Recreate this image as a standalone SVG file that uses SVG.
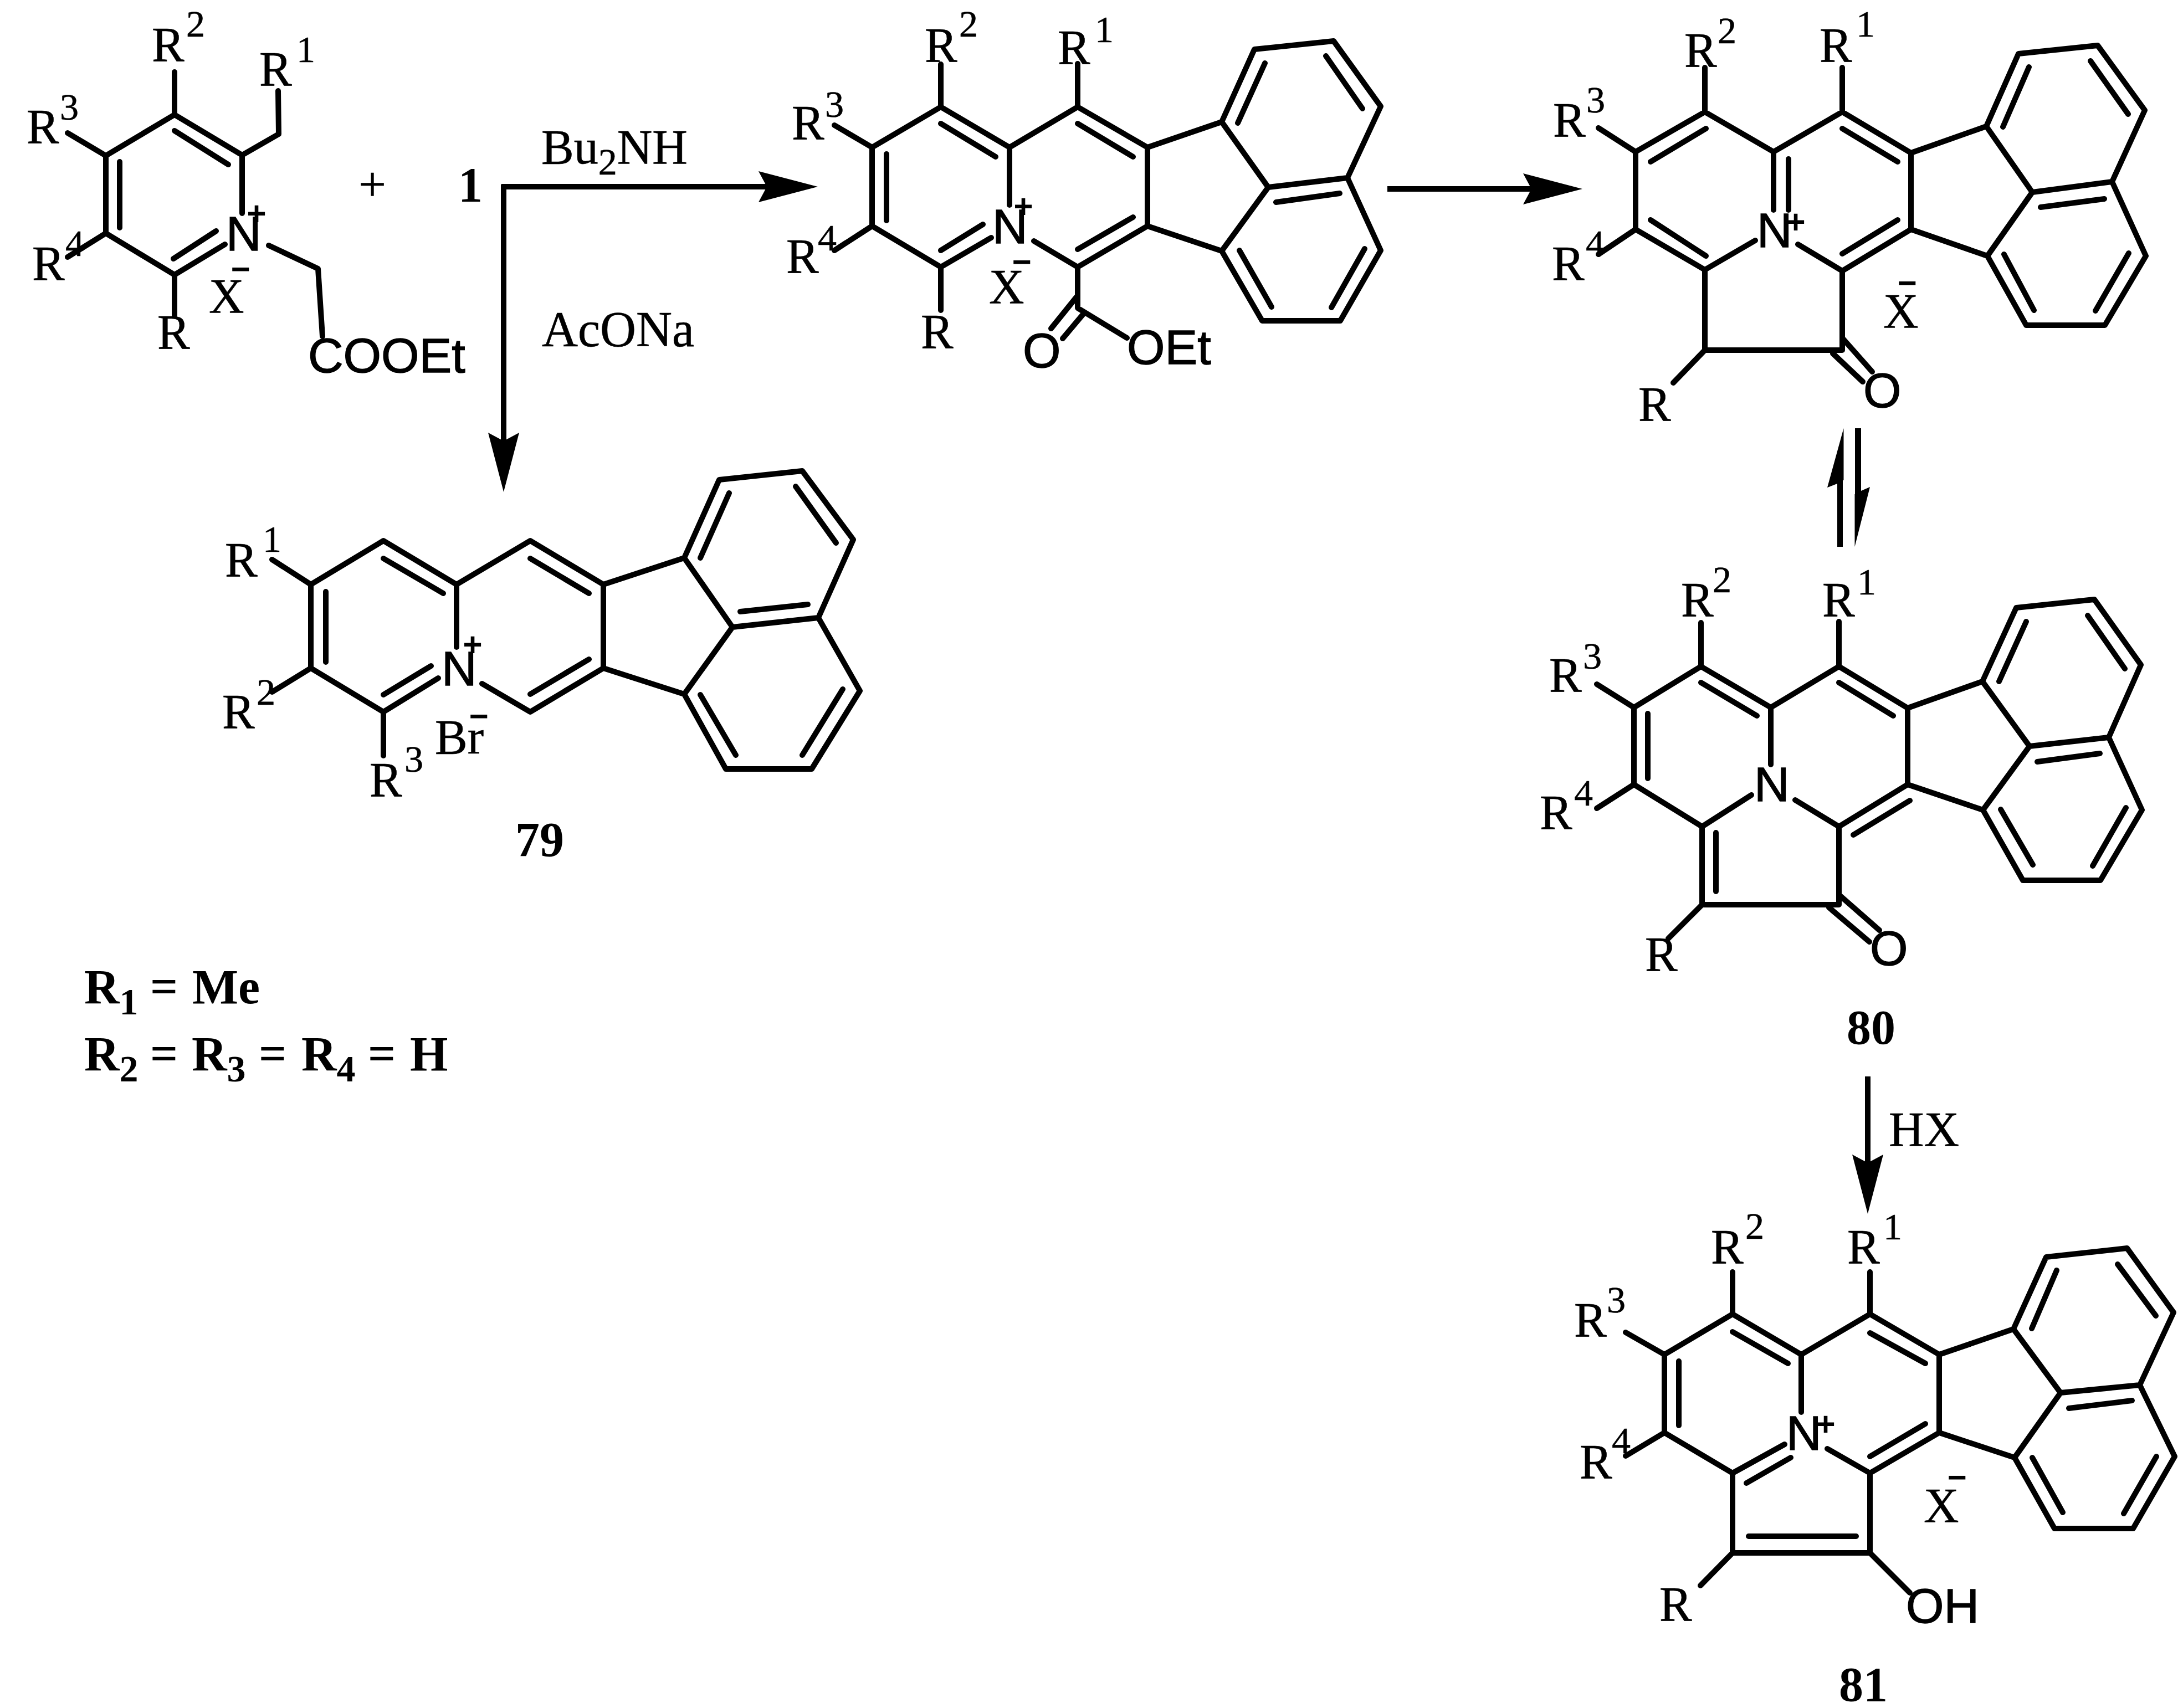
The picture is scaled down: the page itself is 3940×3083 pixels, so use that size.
<svg xmlns="http://www.w3.org/2000/svg" width="3940" height="3083" viewBox="0 0 3940 3083">
<style>
.b{fill:none;stroke:#000;stroke-width:10;stroke-linecap:round;stroke-linejoin:round}
.cn{fill:none;stroke:#000;stroke-width:10}
.t{font-family:"Liberation Serif",serif;font-size:88px;fill:#000;stroke:#000;stroke-width:.6}
.s{font-size:68px}
.a{font-family:"Liberation Sans",sans-serif;font-size:88px;fill:#000;stroke:#000;stroke-width:1.4}
.c{font-family:"Liberation Sans",sans-serif;font-size:60px;font-weight:700;text-anchor:middle;fill:#000}
.n{font-family:"Liberation Serif",serif;font-size:88px;font-weight:700;fill:#000}
</style>
<defs>
<marker id="ah" markerUnits="userSpaceOnUse" markerWidth="107" markerHeight="56" viewBox="0 0 107 56" refX="15" refY="28" orient="auto">
<path d="M0 0L107 28L0 56L15 28Z" fill="#000"/>
</marker>
</defs>
<rect width="3940" height="3083" fill="#fff"/>

<g id="connectors">
<path class="cn" marker-end="url(#ah)" d="M905 337H1384"/>
<path class="cn" marker-end="url(#ah)" d="M909 333V796"/>
<path class="cn" marker-end="url(#ah)" d="M2504 341H2764"/>
<path class="cn" marker-end="url(#ah)" d="M3371 1943V2099"/>
<polygon points="3327.5,773 3298,880 3316,873 3316,987 3326,987 3326,867 3327.5,867" fill="#000"/>
<polygon points="3348,773 3359,773 3359,886 3375,879 3347.5,987 3347.5,892 3348,892" fill="#000"/>
</g>

<g id="reagents">
<text class="t" x="672" y="362" text-anchor="middle">+</text>
<text class="n" x="827" y="363">1</text>
<text class="t" x="977" y="295">Bu<tspan class="s" y="315">2</tspan><tspan y="295">NH</tspan></text>
<text class="t" x="978" y="625" style="font-size:90px">AcONa</text>
<text class="t" x="3409" y="2068">HX</text>
</g>

<g id="mol-start">
<path class="b" d="M437 385L437 280L315 207L191 281L191 421L315 496L406 441M216 292V411M315 236L412 297M313 467L390 417M315 207V130M191 281L122 240M191 421L122 464M315 496V569M437 280L503 242L502 164M485 443L574 485L582 607"/>
<text class="t" x="274" y="110">R<tspan class="s" x="336" y="66">2</tspan></text>
<text class="t" x="468" y="154">R<tspan class="s" x="535" y="112">1</tspan></text>
<text class="t" x="48" y="258">R<tspan class="s" x="108" y="216">3</tspan></text>
<text class="t" x="58" y="505">R<tspan class="s" x="118" y="462">4</tspan></text>
<text class="t" x="284" y="629">R</text>
<text class="a" x="408" y="452">N</text>
<text class="c" x="463" y="406">+</text>
<text class="t" x="377" y="564">X</text>
<text class="c" x="434" y="506">−</text>
<text class="a" x="556" y="672">COOEt</text>
</g>

<g id="mol-intermediate-1">
<path class="b" d="M1822 370L1822 266L1698 193L1574 266L1574 408L1698 482L1789 429M1600 278V398M1698 223L1797 283M1698 452L1774 405M1822 266L1945 193L2071 266L2071 408L1945 482L1866 435M1945 223L2045 283M1945 450L2045 392M2071 266L2205 220L2289 338L2205 453L2071 408M2205 220L2264 89L2407 74L2492 192L2432 321L2289 338M2432 321L2492 452L2419 579L2278 579L2205 453M2234 222L2283 114M2393 101L2459 196M2303 365L2418 349M2237 452L2295 554M2463 449L2403 555M1698 193V116M1945 193V115M1574 266L1506 226M1574 408L1506 452M1698 482V560M1945 482V556L2034 610M1943 536L1897 593M1955 567L1918 611"/>
<text class="t" x="1669" y="111">R<tspan class="s" x="1731" y="66">2</tspan></text>
<text class="t" x="1909" y="115">R<tspan class="s" x="1976" y="76">1</tspan></text>
<text class="t" x="1429" y="251">R<tspan class="s" x="1489" y="211">3</tspan></text>
<text class="t" x="1419" y="492">R<tspan class="s" x="1476" y="452">4</tspan></text>
<text class="t" x="1662" y="628">R</text>
<text class="a" x="1791" y="439">N</text>
<text class="c" x="1847" y="393">+</text>
<text class="t" x="1785" y="547">X</text>
<text class="c" x="1844" y="493">−</text>
<text class="a" x="1846" y="663">O</text>
<text class="a" x="2034" y="657">OEt</text>
</g>

<g id="mol-intermediate-2">
<path class="b" d="M3201 379L3201 274L3077 202L2952 274L2952 414L3077 487L3168 434M3228 287V379M2979 292L3079 232M2979 397L3079 462M3201 274L3325 202L3449 276L3449 414L3325 489L3245 441M3325 232L3425 292M3325 458L3425 397M3449 276L3585 228L3668 347L3587 462L3449 414M3585 228L3643 97L3786 82L3871 199L3812 328L3668 347M3812 328L3873 462L3799 587L3657 587L3587 462M3615 229L3662 121M3773 110L3841 206M3683 374L3798 359M3617 459L3671 560M3842 457L3782 561M3077 487V632H3325V489M3077 632L3020 691M3325 610L3379 671M3308 638L3362 689M3077 202V122M3325 202V122M2952 274L2885 231M2952 414L2885 459"/>
<text class="t" x="3040" y="120">R<tspan class="s" x="3100" y="78">2</tspan></text>
<text class="t" x="3284" y="111">R<tspan class="s" x="3350" y="66">1</tspan></text>
<text class="t" x="2803" y="246">R<tspan class="s" x="2863" y="203">3</tspan></text>
<text class="t" x="2801" y="505">R<tspan class="s" x="2862" y="462">4</tspan></text>
<text class="t" x="2957" y="759">R</text>
<text class="a" x="3171" y="446">N</text>
<text class="c" x="3241" y="421">+</text>
<text class="t" x="3399" y="591">X</text>
<text class="c" x="3442" y="531">−</text>
<text class="a" x="3363" y="735">O</text>
</g>

<g id="mol-79">
<path class="b" d="M824 1168L824 1055L692 976L561 1055L561 1206L692 1285L791 1224M588 1068V1195M692 1008L800 1071M692 1254L778 1202M824 1055L957 976L1089 1055L1089 1206L957 1285L870 1234M957 1008L1063 1071M957 1253L1063 1190M1089 1055L1235 1007L1322 1132L1235 1253L1089 1206M1235 1007L1298 866L1448 850L1540 974L1477 1115L1322 1132M1477 1115L1552 1247L1465 1388L1310 1388L1235 1253M1264 1007L1316 890M1436 878L1509 980M1336 1104L1458 1091M1264 1254L1328 1363M1521 1244L1448 1363M561 1055L491 1010M561 1206L491 1249M692 1285V1364"/>
<text class="t" x="406" y="1040">R<tspan class="s" x="474" y="996">1</tspan></text>
<text class="t" x="401" y="1314">R<tspan class="s" x="463" y="1272">2</tspan></text>
<text class="t" x="667" y="1437">R<tspan class="s" x="730" y="1393">3</tspan></text>
<text class="a" x="797" y="1237">N</text>
<text class="c" x="853" y="1184">+</text>
<text class="t" x="785" y="1360">Br</text>
<text class="c" x="864" y="1313">−</text>
<text class="n" x="930" y="1545">79</text>
</g>

<g id="substituent-key">
<text class="n" x="152" y="1811">R<tspan class="s" y="1831">1</tspan><tspan x="271" y="1811">=</tspan><tspan x="347" y="1811">Me</tspan></text>
<text class="n" x="152" y="1932">R<tspan class="s" y="1952">2</tspan><tspan x="271" y="1932">=</tspan><tspan x="346" y="1932">R</tspan><tspan class="s" y="1952">3</tspan><tspan x="467" y="1932">=</tspan><tspan x="544" y="1932">R</tspan><tspan class="s" y="1952">4</tspan><tspan x="664" y="1932">=</tspan><tspan x="740" y="1932">H</tspan></text>
</g>

<g id="mol-80">
<path class="b" d="M3196 1380L3196 1277L3070 1203L2949 1277L2949 1416L3072 1492L3161 1435M2974 1288V1405M3070 1232L3171 1292M3196 1277L3319 1203L3443 1278L3443 1416L3319 1492L3240 1444M3319 1232L3417 1292M3447 1445L3345 1507M3443 1278L3578 1230L3663 1347L3579 1462L3443 1416M3578 1230L3639 1097L3780 1082L3864 1200L3806 1331L3663 1347M3806 1331L3866 1462L3791 1589L3651 1589L3579 1462M3608 1230L3657 1122M3768 1111L3835 1207M3677 1375L3790 1360M3611 1461L3669 1561M3837 1458L3777 1563M3072 1492V1633H3319V1492M3097 1503V1609M3072 1633L3011 1694M3319 1615L3392 1679M3301 1638L3374 1700M3070 1203V1124M3319 1203V1122M2949 1277L2882 1235M2949 1416L2882 1459"/>
<text class="t" x="3034" y="1112">R<tspan class="s" x="3091" y="1069">2</tspan></text>
<text class="t" x="3289" y="1112">R<tspan class="s" x="3352" y="1073">1</tspan></text>
<text class="t" x="2796" y="1248">R<tspan class="s" x="2857" y="1207">3</tspan></text>
<text class="t" x="2779" y="1496">R<tspan class="s" x="2841" y="1454">4</tspan></text>
<text class="t" x="2969" y="1752">R</text>
<text class="a" x="3166" y="1446">N</text>
<text class="a" x="3375" y="1742">O</text>
<text class="n" x="3333" y="1884">80</text>
</g>

<g id="mol-81">
<path class="b" d="M3251 2549L3251 2445L3127 2372L3004 2445L3004 2586L3127 2659L3221 2607M3030 2457V2573M3127 2404L3227 2461M3152 2677L3232 2631M3251 2445L3375 2372L3500 2445L3500 2586L3375 2659L3298 2615M3375 2406L3475 2461M3375 2629L3475 2570M3500 2445L3634 2399L3719 2514L3636 2631L3500 2586M3634 2399L3693 2269L3839 2253L3923 2369L3862 2500L3719 2514M3862 2500L3925 2629L3850 2759L3708 2759L3636 2631M3667 2398L3712 2293M3822 2282L3891 2375M3734 2542L3848 2528M3668 2631L3723 2730M3892 2629L3833 2732M3127 2659V2803H3375V2659M3156 2773H3350M3127 2803L3069 2862M3375 2803L3447 2875M3127 2372V2296M3375 2372V2296M3004 2445L2934 2405M3004 2586L2934 2628"/>
<text class="t" x="3088" y="2280">R<tspan class="s" x="3150" y="2236">2</tspan></text>
<text class="t" x="3334" y="2280">R<tspan class="s" x="3399" y="2237">1</tspan></text>
<text class="t" x="2841" y="2412">R<tspan class="s" x="2900" y="2369">3</tspan></text>
<text class="t" x="2851" y="2668">R<tspan class="s" x="2909" y="2623">4</tspan></text>
<text class="t" x="2995" y="2925">R</text>
<text class="a" x="3224" y="2617">N</text>
<text class="c" x="3295" y="2591">+</text>
<text class="t" x="3472" y="2747">X</text>
<text class="c" x="3532" y="2687">−</text>
<text class="a" x="3440" y="2929">OH</text>
<text class="n" x="3319" y="3070">81</text>
</g>
</svg>
